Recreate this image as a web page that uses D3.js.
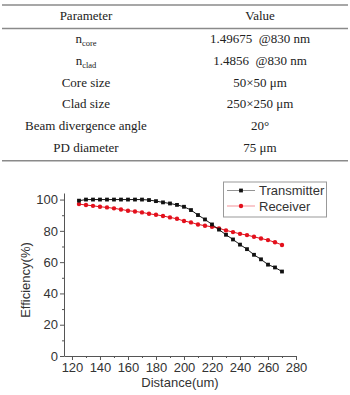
<!DOCTYPE html>
<html>
<head>
<meta charset="utf-8">
<script src="https://cdn.jsdelivr.net/npm/d3@7"></script>
<style>
  body { margin: 0; background: #fff; }
  svg { display: block; }
</style>
</head>
<body>
<svg id="fig" width="350" height="395"></svg>
<script>
const width = 350;
const height = 395;

// --- Table data ---
const paramNames = [
  ["n", "core"],
  ["n", "clad"],
  ["Core size", ""],
  ["Clad size", ""],
  ["Beam divergence angle", ""],
  ["PD diameter", ""]
];
const paramValues = [
  "1.49675  @830 nm",
  "1.4856  @830 nm",
  "50×50 μm",
  "250×250 μm",
  "20°",
  "75 μm"
];

// --- Chart data ---
const distance = [125, 130, 135, 140, 145, 150, 155, 160, 165, 170,
                  175, 180, 185, 190, 195, 200, 205, 210, 215, 220,
                  225, 230, 235, 240, 245, 250, 255, 260, 265, 270];
const transmitter = [99.3, 100, 100, 100, 100, 100, 100, 100, 100, 100,
                     99.7, 99.0, 98.2, 97.5, 96.6, 95.4, 93.3, 90.1, 87.3, 84.1,
                     80.8, 77.5, 74.5, 71.2, 68.3, 64.7, 61.8, 58.4, 56.6, 54.0];
const receiver = [97.1, 96.5, 96.0, 95.4, 95.0, 94.4, 93.7, 92.9, 92.4, 91.8,
                  90.9, 90.3, 89.5, 88.6, 87.7, 86.3, 85.4, 84.1, 83.3, 82.6,
                  81.6, 80.3, 79.2, 78.1, 77.3, 76.2, 75.1, 74.1, 72.7, 71.0];
const xTicks = [120, 140, 160, 180, 200, 220, 240, 260, 280];
const yTicks = [0, 20, 40, 60, 80, 100];

const svg = d3.select("#fig");

// --- Table ---
const gTable = svg.append("g")
  .attr("font-family", "'Liberation Serif', 'Times New Roman', serif")
  .attr("font-size", 13)
  .attr("fill", "#222");

const col1 = 86, col2 = 260;
[5, 28.5, 160.7].forEach(y => {
  gTable.append("line")
    .attr("x1", 2).attr("x2", 348)
    .attr("y1", y).attr("y2", y)
    .attr("stroke", "#8a8a8a")
    .attr("stroke-width", 1.6);
});

gTable.append("text").attr("x", col1).attr("y", 19.5)
  .attr("text-anchor", "middle").text("Parameter");
gTable.append("text").attr("x", col2).attr("y", 19.5)
  .attr("text-anchor", "middle").text("Value");

paramNames.forEach((p, i) => {
  const y = 43.3 + i * 21.7;
  const t = gTable.append("text")
    .attr("x", col1).attr("y", y)
    .attr("text-anchor", "middle");
  t.append("tspan").text(p[0]);
  if (p[1]) {
    t.append("tspan")
      .attr("font-size", 8.5)
      .attr("dy", 2.5)
      .text(p[1]);
  }
  gTable.append("text")
    .attr("x", col2).attr("y", y)
    .attr("text-anchor", "middle")
    .attr("xml:space", "preserve")
    .style("white-space", "pre")
    .text(paramValues[i]);
});

// --- Chart ---
const x = d3.scaleLinear().domain([114.3, 280]).range([64, 296]);
const y = d3.scaleLinear().domain([0, 104.2]).range([356, 193]);

const gChart = svg.append("g")
  .attr("font-family", "'Liberation Sans', Arial, sans-serif");

const axisColor = "#555";

// x axis
const xAxis = gChart.append("g")
  .attr("transform", "translate(0,356)")
  .call(d3.axisBottom(x).tickValues(xTicks).tickSize(4).tickSizeOuter(0).tickPadding(3));
gChart.append("g")
  .attr("transform", "translate(0,356)")
  .call(d3.axisBottom(x).tickValues(d3.range(130, 280, 20)).tickSize(2).tickFormat(""))
  .call(g => g.select(".domain").remove());

// y axis
const yAxis = gChart.append("g")
  .attr("transform", "translate(64,0)")
  .call(d3.axisLeft(y).tickValues(yTicks).tickSize(4).tickSizeOuter(0).tickPadding(2));
gChart.append("g")
  .attr("transform", "translate(64,0)")
  .call(d3.axisLeft(y).tickValues([10, 30, 50, 70, 90]).tickSize(2).tickFormat(""))
  .call(g => g.select(".domain").remove());

gChart.selectAll(".domain, .tick line").attr("stroke", axisColor);
gChart.selectAll(".tick text")
  .attr("font-size", 13)
  .attr("fill", "#333")
  .attr("font-family", "'Liberation Sans', Arial, sans-serif");

// axis labels
gChart.append("text")
  .attr("x", 180).attr("y", 387)
  .attr("text-anchor", "middle")
  .attr("font-size", 13)
  .attr("fill", "#333")
  .text("Distance(um)");

gChart.append("text")
  .attr("transform", "translate(30,280) rotate(-90)")
  .attr("text-anchor", "middle")
  .attr("font-size", 13)
  .attr("fill", "#333")
  .text("Efficiency(%)");

// series
const redColor = "#e3101c";
const line = vals => d3.line()
  .x((d, i) => x(distance[i]))
  .y(d => y(d))(vals);

gChart.append("path")
  .attr("d", line(receiver))
  .attr("fill", "none")
  .attr("stroke", redColor)
  .attr("stroke-width", 1);
gChart.append("path")
  .attr("d", line(transmitter))
  .attr("fill", "none")
  .attr("stroke", "#111")
  .attr("stroke-width", 1);

gChart.selectAll(".rcv")
  .data(receiver)
  .join("circle")
  .attr("class", "rcv")
  .attr("cx", (d, i) => x(distance[i]))
  .attr("cy", d => y(d))
  .attr("r", 2.2)
  .attr("fill", redColor);

gChart.selectAll(".trm")
  .data(transmitter)
  .join("rect")
  .attr("class", "trm")
  .attr("x", (d, i) => x(distance[i]) - 1.9)
  .attr("y", d => y(d) - 1.9)
  .attr("width", 3.8)
  .attr("height", 3.8)
  .attr("fill", "#111");

// legend
const gLegend = gChart.append("g");
gLegend.append("rect")
  .attr("x", 223.5).attr("y", 182)
  .attr("width", 103).attr("height", 35)
  .attr("fill", "#fff")
  .attr("stroke", "#999")
  .attr("stroke-width", 1);

const legendItems = [
  { name: "Transmitter", color: "#111", shape: "square" },
  { name: "Receiver", color: redColor, shape: "circle" }
];
legendItems.forEach((d, i) => {
  const ly = 190.5 + i * 15.5;
  gLegend.append("line")
    .attr("x1", 227).attr("x2", 255)
    .attr("y1", ly).attr("y2", ly)
    .attr("stroke", d.color)
    .attr("stroke-opacity", 0.45)
    .attr("stroke-width", 1);
  if (d.shape === "square") {
    gLegend.append("rect")
      .attr("x", 241 - 1.9).attr("y", ly - 1.9)
      .attr("width", 3.8).attr("height", 3.8)
      .attr("fill", d.color);
  } else {
    gLegend.append("circle")
      .attr("cx", 241).attr("cy", ly)
      .attr("r", 2.2)
      .attr("fill", d.color);
  }
  gLegend.append("text")
    .attr("x", 259).attr("y", ly + 4.6)
    .attr("font-size", 13)
    .attr("fill", "#333")
    .text(d.name);
});
</script>
</body>
</html>
